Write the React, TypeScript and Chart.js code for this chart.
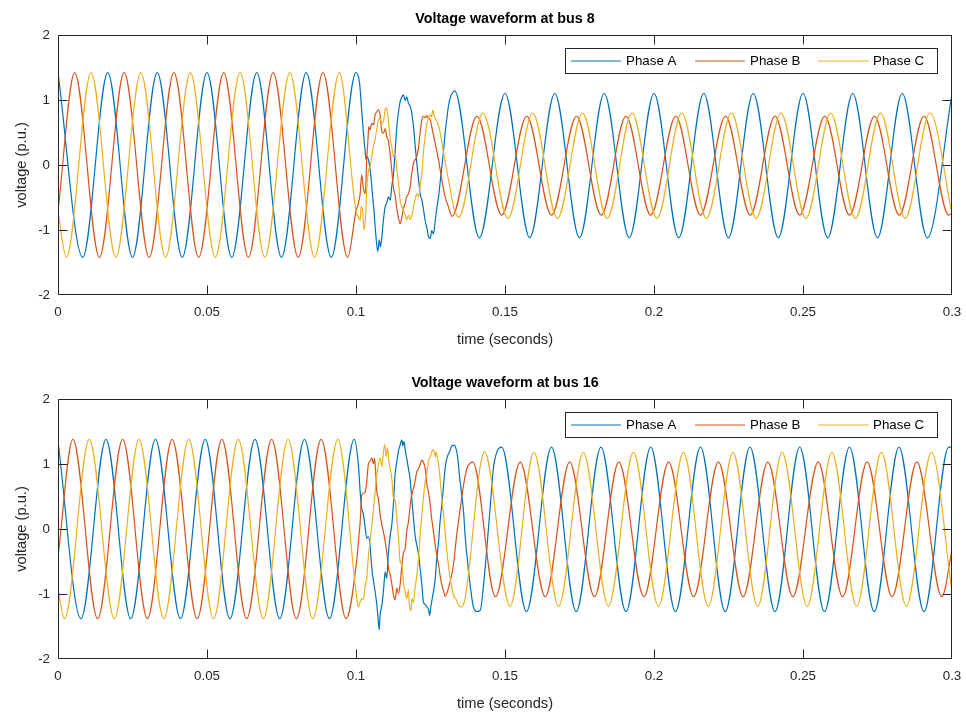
import React, { useEffect, useRef } from 'react';
import { Chart, registerables } from 'chart.js';

Chart.register(...registerables);

type P = [number, number];

const xTickValues = [0, 0.05, 0.1, 0.15, 0.2, 0.25, 0.3];
const xTickLabels = ['0', '0.05', '0.1', '0.15', '0.2', '0.25', '0.3'];
const yTickValues = [-2, -1, 0, 1, 2];
const yTickLabels = ['-2', '-1', '0', '1', '2'];
const seriesNames = ['Phase A', 'Phase B', 'Phase C'];
const seriesColors = ['#0072BD', '#D95319', '#EDB120'];
const chartTitles = ['Voltage waveform at bus 8', 'Voltage waveform at bus 16'];
const xAxisLabel = 'time (seconds)';
const yAxisLabel = 'voltage (p.u.)';

// extrema (and fault-period samples): [time, voltage]
const bus8A: P[] = [
  [0, 1.42], [0.0083, -1.42], [0.0167, 1.42], [0.025, -1.42], [0.0333, 1.42], [0.0417, -1.42], [0.05, 1.42],
  [0.0583, -1.42], [0.0667, 1.42], [0.075, -1.42], [0.0833, 1.42], [0.0917, -1.42], [0.1, 1.42],
  [0.1012, 1.26], [0.1019, 0.85], [0.1025, 0.49], [0.1031, 0.2], [0.1034, 0.08], [0.1038, 0.13], [0.1044, 0.03],
  [0.105, -0.18], [0.1055, -0.44], [0.1061, -0.74], [0.1066, -1.05], [0.1073, -1.33], [0.1078, -1.15], [0.1082, -1.26],
  [0.1088, -1.05], [0.1092, -0.85], [0.1098, -0.64], [0.1103, -0.59], [0.1109, -0.49], [0.1115, -0.54], [0.112, -0.33],
  [0.1126, -0.13], [0.1131, 0.18], [0.1137, 0.59], [0.1142, 0.8], [0.1148, 0.97], [0.1154, 1.05], [0.1159, 1.08],
  [0.1165, 0.99], [0.117, 1.05], [0.1176, 0.95], [0.1182, 0.9], [0.1187, 0.8], [0.1193, 0.59], [0.1198, 0.33],
  [0.1204, 0.03], [0.121, -0.23], [0.1215, -0.44], [0.1221, -0.54], [0.1226, -0.67], [0.1232, -0.85], [0.1238, -0.97],
  [0.1243, -1.1], [0.1249, -1.13], [0.1254, -1.01], [0.126, -1.06], [0.1266, -0.85], [0.1271, -0.67], [0.1277, -0.49],
  [0.1282, -0.28], [0.1288, -0.03], [0.1294, 0.23], [0.1299, 0.49], [0.1305, 0.72], [0.131, 0.9], [0.1316, 1.03],
  [0.1322, 1.1], [0.1331, 1.14],
  [0.1414, -1.12], [0.15, 1.1], [0.1583, -1.12], [0.1667, 1.1], [0.175, -1.12], [0.1833, 1.1], [0.1917, -1.12],
  [0.2, 1.1], [0.2083, -1.12], [0.2167, 1.1], [0.225, -1.12], [0.2333, 1.1], [0.2417, -1.12], [0.25, 1.1],
  [0.2583, -1.12], [0.2667, 1.1], [0.275, -1.12], [0.2833, 1.1], [0.2917, -1.12], [0.3, 1.1],
];

const bus8B: P[] = [
  [0, -0.71], [0.0056, 1.42], [0.0139, -1.42], [0.0222, 1.42], [0.0306, -1.42], [0.0389, 1.42], [0.0472, -1.42],
  [0.0556, 1.42], [0.0639, -1.42], [0.0722, 1.42], [0.0806, -1.42], [0.0889, 1.42], [0.0972, -1.42], [0.1, -0.71],
  [0.1008, -0.59], [0.1014, -0.44], [0.1019, -0.15], [0.1025, -0.36], [0.1031, -0.44], [0.1036, 0.08], [0.104, 0.38],
  [0.1043, 0.59], [0.1047, 0.54], [0.1053, 0.64], [0.1059, 0.62], [0.1064, 0.77], [0.107, 0.82], [0.1075, 0.85],
  [0.1081, 0.77], [0.1087, 0.51], [0.1092, 0.49], [0.1098, 0.56], [0.1103, 0.44], [0.1109, 0.36], [0.1115, 0.15],
  [0.112, -0.08], [0.1126, -0.36], [0.1131, -0.46], [0.1137, -0.67], [0.1142, -0.8], [0.1148, -0.9], [0.1154, -0.8],
  [0.1159, -0.67], [0.1165, -0.59], [0.117, -0.49], [0.1176, -0.44], [0.1182, -0.33], [0.1187, -0.13], [0.1193, 0.03],
  [0.1198, 0.08], [0.1204, 0.13], [0.121, 0.28], [0.1215, 0.49], [0.1221, 0.69], [0.1226, 0.75], [0.1232, 0.73],
  [0.1238, 0.76], [0.1243, 0.72], [0.1249, 0.7], [0.1254, 0.59], [0.1266, 0.33], [0.1277, 0.08], [0.1288, -0.23],
  [0.1299, -0.49], [0.131, -0.64], [0.1322, -0.79],
  [0.1406, 0.75], [0.1489, -0.77], [0.1573, 0.75], [0.1656, -0.77], [0.174, 0.75], [0.1823, -0.77], [0.1906, 0.75],
  [0.1989, -0.77], [0.2073, 0.75], [0.2156, -0.77], [0.224, 0.75], [0.2323, -0.77], [0.2406, 0.75], [0.2489, -0.77],
  [0.2573, 0.75], [0.2656, -0.77], [0.274, 0.75], [0.2823, -0.77], [0.2906, 0.75], [0.2989, -0.77], [0.3, -0.74],
];

const bus8C: P[] = [
  [0, -0.71], [0.0028, -1.42], [0.0111, 1.42], [0.0194, -1.42], [0.0278, 1.42], [0.0361, -1.42], [0.0444, 1.42],
  [0.0528, -1.42], [0.0611, 1.42], [0.0694, -1.42], [0.0778, 1.42], [0.0861, -1.42], [0.0944, 1.42], [0.1, -0.71],
  [0.1008, -0.8], [0.1014, -0.85], [0.1017, -0.64], [0.1022, -0.69], [0.1027, -1.0], [0.1032, -0.8], [0.1036, -0.39],
  [0.1042, -0.08], [0.1047, -0.03], [0.1053, 0.13], [0.1059, 0.31], [0.1064, 0.39], [0.107, 0.56], [0.1075, 0.69],
  [0.1081, 0.72], [0.1087, 0.64], [0.1092, 0.67], [0.1098, 0.85], [0.1103, 0.88], [0.1109, 0.67], [0.1115, 0.39],
  [0.112, 0.28], [0.1126, 0.13], [0.1131, 0.18], [0.1137, -0.08], [0.1142, -0.23], [0.1148, -0.54], [0.1154, -0.64],
  [0.1159, -0.69], [0.1165, -0.77], [0.117, -0.84], [0.1176, -0.77], [0.1182, -0.84], [0.1187, -0.79], [0.1193, -0.64],
  [0.1198, -0.54], [0.1204, -0.44], [0.121, -0.49], [0.1215, -0.33], [0.1221, -0.13], [0.1226, 0.18], [0.1232, 0.44],
  [0.1238, 0.64], [0.1243, 0.72], [0.1249, 0.77], [0.1253, 0.74], [0.1258, 0.85], [0.1262, 0.77], [0.1269, 0.69],
  [0.1276, 0.62], [0.1282, 0.51], [0.1294, 0.18], [0.1305, -0.1], [0.1316, -0.36], [0.1327, -0.64], [0.1338, -0.77],
  [0.1344, -0.81],
  [0.1426, 0.8], [0.151, -0.82], [0.1593, 0.8], [0.1676, -0.82], [0.176, 0.8], [0.1843, -0.82], [0.1926, 0.8],
  [0.201, -0.82], [0.2093, 0.8], [0.2176, -0.82], [0.226, 0.8], [0.2343, -0.82], [0.2426, 0.8], [0.251, -0.82],
  [0.2593, 0.8], [0.2676, -0.82], [0.276, 0.8], [0.2843, -0.82], [0.2926, 0.8], [0.3, -0.74],
];

const bus16A: P[] = [
  [0, 1.35], [0.0077, -1.38], [0.0161, 1.38], [0.0244, -1.38], [0.0327, 1.38], [0.0411, -1.38], [0.0494, 1.38],
  [0.0577, -1.38], [0.0661, 1.38], [0.0744, -1.38], [0.0827, 1.38], [0.0911, -1.38], [0.0994, 1.38],
  [0.1008, 0.99], [0.1014, 0.57], [0.1019, 0.32], [0.1025, 0.22], [0.1031, 0.01], [0.1036, -0.14], [0.1042, -0.12],
  [0.1047, -0.25], [0.1053, -0.6], [0.1059, -0.81], [0.1064, -0.96], [0.107, -1.17], [0.1074, -1.37], [0.1078, -1.55],
  [0.1081, -1.32], [0.1087, -1.17], [0.1092, -0.96], [0.1098, -0.66], [0.1103, -0.76], [0.1109, -0.35], [0.1115, -0.09],
  [0.112, 0.06], [0.1126, 0.42], [0.1131, 0.83], [0.1137, 1.04], [0.1142, 1.19], [0.1148, 1.29], [0.1154, 1.37],
  [0.1157, 1.28], [0.1161, 1.35], [0.1166, 1.19], [0.117, 1.09], [0.1176, 0.93], [0.1182, 0.75], [0.1187, 0.47],
  [0.1193, 0.16], [0.1198, -0.09], [0.1204, -0.25], [0.121, -0.4], [0.1215, -0.6], [0.1221, -0.86], [0.1226, -1.12],
  [0.1232, -1.16], [0.1238, -1.2], [0.1243, -1.23], [0.1247, -1.33], [0.1251, -1.2], [0.126, -0.96], [0.1266, -0.76],
  [0.1271, -0.45], [0.1277, -0.2], [0.1282, 0.11], [0.1288, 0.37], [0.1294, 0.68], [0.1299, 0.93], [0.1305, 1.09],
  [0.1314, 1.19], [0.1322, 1.28], [0.1329, 1.29], [0.1336, 1.23], [0.1341, 1.11], [0.1347, 0.83], [0.1355, 0.52],
  [0.1361, 0.26], [0.1366, -0.09], [0.1372, -0.4], [0.1377, -0.62], [0.1383, -0.86], [0.1389, -1.07], [0.1394, -1.2],
  [0.1405, -1.27], [0.1417, -1.25], [0.1428, -0.86], [0.1439, -0.3], [0.145, 0.32], [0.1461, 0.93], [0.1473, 1.19],
  [0.1489, 1.26], [0.1572, -1.27], [0.1656, 1.26], [0.1739, -1.27], [0.1822, 1.26], [0.1906, -1.27], [0.1989, 1.26],
  [0.2072, -1.27], [0.2156, 1.26], [0.2239, -1.27], [0.2322, 1.26], [0.2406, -1.27], [0.2489, 1.26], [0.2572, -1.27],
  [0.2656, 1.26], [0.2739, -1.27], [0.2822, 1.26], [0.2906, -1.27], [0.2989, 1.26], [0.3, 1.26],
];

const bus16B: P[] = [
  [0, -0.43], [0.005, 1.38], [0.0133, -1.38], [0.0217, 1.38], [0.03, -1.38], [0.0383, 1.38], [0.0467, -1.38],
  [0.055, 1.38], [0.0633, -1.38], [0.0717, 1.38], [0.08, -1.38], [0.0883, 1.38], [0.0967, -1.38],
  [0.1003, -0.46], [0.1008, -0.2], [0.1014, 0.11], [0.1019, 0.52], [0.1025, 0.55], [0.1031, 0.57], [0.1036, 0.73],
  [0.1042, 1.01], [0.1047, 1.04], [0.1053, 1.09], [0.1059, 1.0], [0.1062, 1.09], [0.1066, 0.88], [0.107, 0.57],
  [0.1075, 0.47], [0.1081, 0.22], [0.1087, 0.06], [0.1092, -0.04], [0.1098, -0.2], [0.1103, -0.35], [0.1109, -0.6],
  [0.1115, -0.71], [0.112, -0.84], [0.1126, -1.02], [0.1131, -1.09], [0.1137, -0.91], [0.1142, -0.99], [0.1148, -0.86],
  [0.1154, -0.55], [0.1159, -0.37], [0.1165, -0.3], [0.117, -0.04], [0.1176, 0.11], [0.1182, 0.37], [0.1187, 0.52],
  [0.1193, 0.63], [0.1198, 0.73], [0.1204, 0.88], [0.121, 0.93], [0.1215, 0.99], [0.1221, 1.06], [0.1226, 1.03],
  [0.1232, 0.93], [0.1238, 0.68], [0.1243, 0.57], [0.1249, 0.37], [0.1254, 0.16], [0.126, -0.04], [0.1266, -0.25],
  [0.1271, -0.4], [0.1277, -0.55], [0.1282, -0.71], [0.1288, -0.86], [0.1294, -0.96], [0.1299, -1.04], [0.1305, -0.99],
  [0.131, -0.91], [0.1316, -0.81], [0.1327, -0.55], [0.1338, -0.09], [0.135, 0.32], [0.1361, 0.68], [0.1372, 0.93],
  [0.1383, 1.01], [0.1392, 1.03],
  [0.1468, -1.04], [0.1551, 1.03], [0.1635, -1.04], [0.1717, 1.03], [0.18, -1.04], [0.1882, 1.03], [0.1966, -1.04],
  [0.2049, 1.03], [0.2133, -1.04], [0.2216, 1.03], [0.2299, -1.04], [0.2382, 1.03], [0.2466, -1.04], [0.2551, 1.03],
  [0.2633, -1.04], [0.2715, 1.03], [0.2799, -1.04], [0.2882, 1.03], [0.2966, -1.04], [0.3, -0.33],
];

const bus16C: P[] = [
  [0, -0.93], [0.0022, -1.38], [0.0105, 1.38], [0.0189, -1.38], [0.0272, 1.38], [0.0355, -1.38], [0.0439, 1.38],
  [0.0522, -1.38], [0.0605, 1.38], [0.0689, -1.38], [0.0772, 1.38], [0.0855, -1.38], [0.0939, 1.38], [0.1, -0.96],
  [0.1008, -1.2], [0.1014, -1.12], [0.1019, -1.07], [0.1025, -1.08], [0.1031, -0.86], [0.1036, -0.76], [0.1042, -0.4],
  [0.1047, -0.2], [0.1053, 0.06], [0.1059, 0.32], [0.1064, 0.57], [0.107, 0.83], [0.1075, 0.99], [0.1081, 1.09],
  [0.1087, 0.96], [0.1092, 1.19], [0.1097, 1.3], [0.1101, 1.11], [0.1106, 1.25], [0.111, 1.06], [0.1115, 0.93],
  [0.112, 0.78], [0.1126, 0.47], [0.1131, 0.45], [0.1137, 0.16], [0.1142, -0.09], [0.1148, -0.5], [0.1154, -0.55],
  [0.1159, -0.81], [0.1165, -0.96], [0.117, -1.07], [0.1176, -0.94], [0.1179, -1.17], [0.1184, -1.26], [0.1188, -1.07],
  [0.1193, -1.13], [0.1198, -0.91], [0.1204, -0.71], [0.121, -0.45], [0.1215, -0.09], [0.1221, 0.22], [0.1226, 0.47],
  [0.1232, 0.73], [0.1238, 0.88], [0.1243, 1.04], [0.1249, 1.11], [0.1254, 1.19], [0.126, 1.22], [0.1266, 1.11],
  [0.1269, 1.19], [0.1273, 1.09], [0.1277, 0.99], [0.1282, 0.78], [0.1288, 0.47], [0.1294, 0.22], [0.1299, -0.04],
  [0.1305, -0.35], [0.131, -0.55], [0.1316, -0.76], [0.1322, -0.91], [0.1327, -1.02], [0.1336, -1.08], [0.1344, -1.17],
  [0.1355, -1.2], [0.1366, -1.07], [0.1377, -0.71], [0.1389, -0.2], [0.14, 0.32], [0.1411, 0.78], [0.1422, 1.09],
  [0.1431, 1.19],
  [0.1517, -1.19], [0.1597, 1.18], [0.168, -1.19], [0.1763, 1.18], [0.1847, -1.19], [0.1931, 1.18], [0.2015, -1.19],
  [0.2099, 1.18], [0.2182, -1.19], [0.2265, 1.18], [0.2348, -1.19], [0.243, 1.18], [0.2514, -1.19], [0.2597, 1.18],
  [0.268, -1.19], [0.2763, 1.18], [0.2847, -1.19], [0.2931, 1.18], [0.3, -0.96],
];

const FONT = '"Liberation Sans", Arial, Helvetica, sans-serif';
const AXIS_COLOR = '#262626';

const matlabPlugin = {
  id: 'matlabLook',
  beforeDraw(chart: any) {
    const ctx = chart.ctx;
    ctx.save();
    ctx.fillStyle = '#ffffff';
    ctx.fillRect(0, 0, chart.width, chart.height);
    ctx.restore();
  },
  afterDraw(chart: any) {
    const opts = chart.options.plugins.matlabLook;
    const ctx: CanvasRenderingContext2D = chart.ctx;
    const a = chart.chartArea;
    const xs = chart.scales.x;
    const ys = chart.scales.y;
    ctx.save();
    ctx.strokeStyle = AXIS_COLOR;
    ctx.lineWidth = 1;
    const L = Math.round(a.left) + 0.5;
    const R = Math.round(a.right) - 0.5;
    const T = Math.round(a.top) + 0.5;
    const B = Math.round(a.bottom) - 0.5;
    ctx.beginPath();
    ctx.rect(L, T, R - L, B - T);
    ctx.stroke();
    const tl = 9;
    ctx.beginPath();
    xTickValues.forEach((v) => {
      const px = Math.min(R, Math.max(L, Math.round(xs.getPixelForValue(v)) + 0.5));
      ctx.moveTo(px, B);
      ctx.lineTo(px, B - tl);
      ctx.moveTo(px, T);
      ctx.lineTo(px, T + tl);
    });
    yTickValues.forEach((v) => {
      const py = Math.min(B, Math.max(T, Math.round(ys.getPixelForValue(v)) + 0.5));
      ctx.moveTo(L, py);
      ctx.lineTo(L + tl, py);
      ctx.moveTo(R, py);
      ctx.lineTo(R - tl, py);
    });
    ctx.stroke();

    const cx = (a.left + a.right) / 2;
    // title
    ctx.fillStyle = '#000000';
    ctx.font = `bold 14.3px ${FONT}`;
    ctx.textAlign = 'center';
    ctx.textBaseline = 'middle';
    ctx.fillText(opts.title, cx, 19);
    // x label
    ctx.fillStyle = AXIS_COLOR;
    ctx.font = `14.67px ${FONT}`;
    ctx.fillText(xAxisLabel, cx, 340);
    // y label
    ctx.save();
    ctx.translate(22, (a.top + a.bottom) / 2);
    ctx.rotate(-Math.PI / 2);
    ctx.fillText(yAxisLabel, 0, 0);
    ctx.restore();

    // legend
    const lx = 565.5, ly = 48.5, lw = 372, lh = 25;
    ctx.fillStyle = '#ffffff';
    ctx.fillRect(lx, ly, lw, lh);
    ctx.strokeStyle = AXIS_COLOR;
    ctx.strokeRect(lx, ly, lw, lh);
    const items = [
      { x0: 571, x1: 621, tx: 626 },
      { x0: 695, x1: 745, tx: 750 },
      { x0: 818, x1: 869, tx: 873 },
    ];
    ctx.font = `13.33px ${FONT}`;
    ctx.textAlign = 'left';
    items.forEach((it, i) => {
      ctx.strokeStyle = seriesColors[i];
      ctx.lineWidth = 1.2;
      ctx.beginPath();
      ctx.moveTo(it.x0, 61);
      ctx.lineTo(it.x1, 61);
      ctx.stroke();
      ctx.fillStyle = '#000000';
      ctx.fillText(seriesNames[i], it.tx, 61);
    });
    ctx.restore();
  },
};

function buildConfig(title: string, series: P[][], height: number): any {
  return {
    type: 'line',
    data: {
      datasets: series.map((s, i) => ({
        label: seriesNames[i],
        data: s.map(([x, y]) => ({ x, y })),
        borderColor: seriesColors[i],
        backgroundColor: seriesColors[i],
        borderWidth: 1.2,
        pointRadius: 0,
        fill: false,
        cubicInterpolationMode: 'monotone',
        order: 3 - i,
      })),
    },
    options: {
      responsive: false,
      animation: false,
      events: [],
      layout: { padding: { top: 35, right: 14, left: 0, bottom: 0 } },
      plugins: {
        legend: { display: false },
        title: { display: false },
        tooltip: { enabled: false },
        matlabLook: { title },
      },
      scales: {
        x: {
          type: 'linear',
          min: 0,
          max: 0.3,
          afterBuildTicks: (s: any) => {
            s.ticks = xTickValues.map((v) => ({ value: v }));
          },
          afterFit: (s: any) => {
            s.height = height - 295;
            s.paddingLeft = 0;
            s.paddingRight = 0;
          },
          ticks: {
            autoSkip: false,
            maxRotation: 0,
            padding: 9,
            color: AXIS_COLOR,
            font: { family: FONT, size: 13.33 },
            callback: (_v: any, i: number) => xTickLabels[i],
          },
          grid: { display: false, drawTicks: false },
          border: { display: false },
        },
        y: {
          type: 'linear',
          min: -2,
          max: 2,
          afterBuildTicks: (s: any) => {
            s.ticks = yTickValues.map((v) => ({ value: v }));
          },
          afterFit: (s: any) => {
            s.width = 58;
            s.paddingTop = 0;
            s.paddingBottom = 0;
          },
          ticks: {
            autoSkip: false,
            padding: 8,
            color: AXIS_COLOR,
            font: { family: FONT, size: 13.33 },
            callback: (_v: any, i: number) => yTickLabels[i],
          },
          grid: { display: false, drawTicks: false },
          border: { display: false },
        },
      },
    },
    plugins: [matlabPlugin],
  };
}

function WaveChart({ title, series, height }: { title: string; series: P[][]; height: number }) {
  const ref = useRef<HTMLCanvasElement | null>(null);
  useEffect(() => {
    if (!ref.current) return;
    const chart = new Chart(ref.current, buildConfig(title, series, height));
    return () => chart.destroy();
  }, [title, series, height]);
  return <canvas ref={ref} width={966} height={height} style={{ display: 'block', width: 966, height }} />;
}

export default function App() {
  return (
    <div style={{ position: 'fixed', left: 0, top: 0, width: 966, height: 712, overflow: 'hidden', background: '#fff' }}>
      <WaveChart title={chartTitles[0]} series={[bus8A, bus8B, bus8C]} height={364} />
      <WaveChart title={chartTitles[1]} series={[bus16A, bus16B, bus16C]} height={348} />
    </div>
  );
}
